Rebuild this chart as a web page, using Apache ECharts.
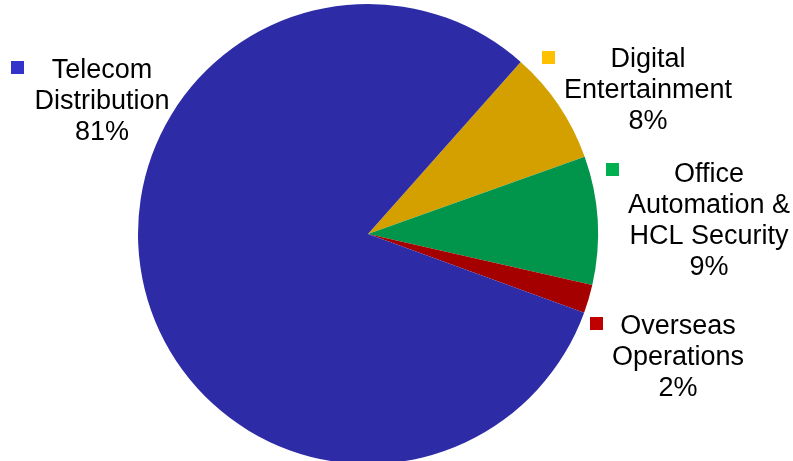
<!DOCTYPE html>
<html>
<head>
<meta charset="utf-8">
<script src="https://cdn.jsdelivr.net/npm/echarts@6/dist/echarts.min.js"></script>
<style>
html,body{margin:0;padding:0;background:#fff;}
#chart{width:793px;height:461px;}
</style>
</head>
<body>
<div id="chart"></div>
<script>
// Data
const categories = ['Digital\nEntertainment', 'Office\nAutomation &\nHCL Security', 'Overseas\nOperations', 'Telecom\nDistribution'];
const shares = [8, 9, 2, 81];

// Styling / layout (not data)
const sliceColors = ['#D4A000', '#00954A', '#A40000', '#2D2BA6'];
const markerColors = ['#FFC000', '#00B050', '#C00000', '#3333CC'];
const labelPos = [[648, 90.5], [709, 221], [678, 357.5], [102, 101.5]];
const markerPos = [[542, 51], [606, 163], [590, 317], [11, 61]];

const chart = echarts.init(document.getElementById('chart'));

const legends = categories.map((c, i) => ({
  data: [{ name: c, itemStyle: { color: markerColors[i] } }],
  left: markerPos[i][0],
  top: markerPos[i][1],
  padding: 0,
  itemGap: 0,
  itemWidth: 13,
  itemHeight: 13,
  icon: 'rect',
  selectedMode: false,
  formatter: () => '',
  textStyle: { fontSize: 1, padding: 0 }
}));

chart.setOption({
  animation: false,
  legend: legends,
  series: [{
    type: 'pie',
    center: [368, 234],
    radius: 230,
    startAngle: 48.4,
    clockwise: true,
    avoidLabelOverlap: false,
    emphasis: { disabled: true },
    data: categories.map((c, i) => ({ name: c, value: shares[i], itemStyle: { color: sliceColors[i] } })),
    label: {
      show: true,
      position: 'outside',
      formatter: p => p.name + '\n' + p.value + '%',
      fontFamily: '"Liberation Sans", Arial, sans-serif',
      fontSize: 27,
      lineHeight: 31,
      color: '#000',
      align: 'center'
    },
    labelLine: { show: false },
    labelLayout: p => ({
      x: labelPos[p.dataIndex][0],
      y: labelPos[p.dataIndex][1],
      align: 'center',
      verticalAlign: 'middle'
    })
  }]
});
</script>
</body>
</html>
